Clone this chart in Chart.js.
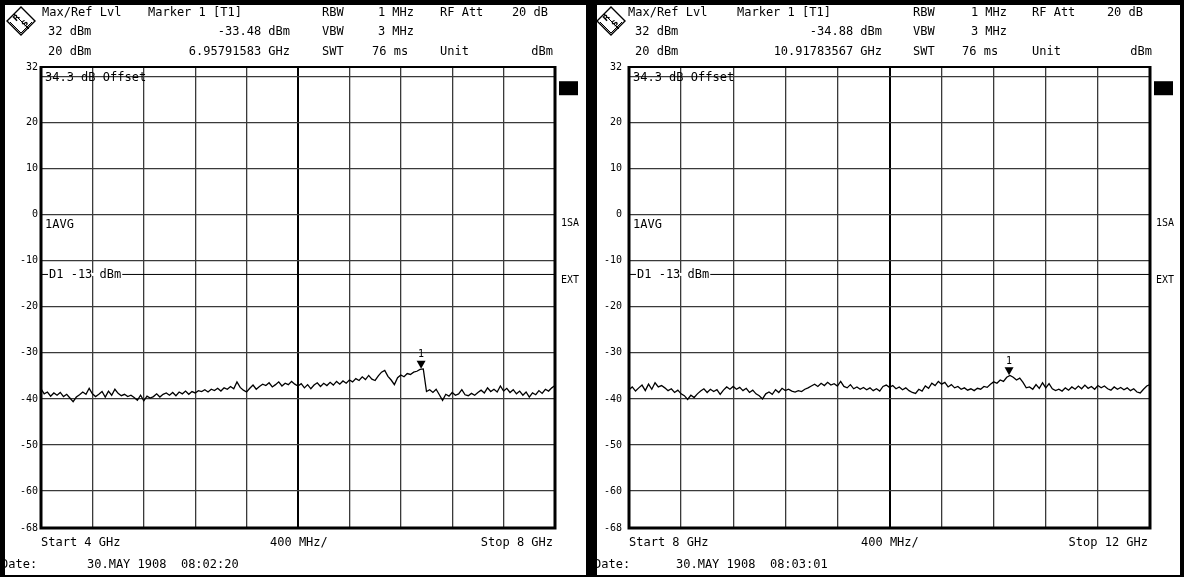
<!DOCTYPE html>
<html>
<head>
<meta charset="utf-8">
<title>Spectrum sweeps 4-8 GHz / 8-12 GHz</title>
<script src="https://cdn.jsdelivr.net/npm/chart.js@4/dist/chart.umd.min.js"></script>
<style>
  html, body { margin: 0; padding: 0; background: #000; }
  body { width: 1184px; height: 577px; position: relative; overflow: hidden; }
  canvas { position: absolute; top: 0; }
  #left { left: 0; }
  #right { left: 591px; }
</style>
</head>
<body>
<canvas id="left" width="591" height="577"></canvas>
<canvas id="right" width="593" height="577"></canvas>
<script>
// Two analyzer screens side by side: 4-8 GHz and 8-12 GHz sweeps
const $ = (id) => document.getElementById(id);

// level axis (dBm)
const refLevel = 32;
const bottomLevel = -68;
const yTicks = [32, 30, 20, 10, 0, -10, -20, -30, -40, -50, -60, -68];
const yLabels = ["32", "", "20", "10", "0", "-10", "-20", "-30", "-40", "-50", "-60", "-68"];
const displayLine = -13;

// sweep 1: 4 - 8 GHz, 25 MHz per trace point
const sweep1Start = 4;
const sweep1Stop = 8;
const sweep1Trace = [
  -37.8, -38.9, -38.5, -39.4, -38.7, -39.2, -38.6, -39.5, -39.0, -39.8,
  -40.6, -39.6, -39.1, -38.5, -39.0, -37.7, -38.9, -39.5, -39.0, -38.4,
  -39.6, -38.3, -39.2, -37.9, -38.8, -39.3, -39.0, -39.5, -39.2, -39.7,
  -40.3, -39.2, -40.4, -39.4, -39.8, -39.5, -38.9, -39.6, -39.0, -38.7,
  -39.2, -38.6, -39.3, -38.5, -38.9, -38.3, -39.0, -38.4, -38.7, -38.2,
  -38.4, -38.0, -38.5, -37.9, -38.2, -37.7, -38.3, -37.6, -37.9, -37.3,
  -37.8, -36.3, -37.5, -38.1, -38.5, -37.7, -37.0, -37.9, -37.3, -36.8,
  -37.1, -36.5, -37.4, -36.9, -36.3, -37.2, -36.6, -36.9, -36.2, -36.8,
  -37.2, -36.7, -37.6, -36.9, -37.8, -37.0, -36.5, -37.3, -36.6, -37.1,
  -36.4, -37.0, -36.2, -36.8, -36.1, -36.6, -35.9, -36.3, -35.6, -36.0,
  -35.2, -35.8, -34.9, -35.7, -36.0, -35.0, -34.2, -33.8, -35.1, -35.9,
  -36.9, -35.4, -34.8, -35.2, -34.5, -34.7, -34.2, -34.0, -33.6, -33.5,
  -38.4, -38.0, -38.6, -37.9, -39.1, -40.3, -39.0, -39.4, -38.6, -39.2,
  -38.9, -38.0, -39.1, -39.3, -38.8, -39.2, -38.6, -38.1, -38.7, -37.6,
  -38.4, -37.9, -38.5, -37.2, -38.3, -37.7, -38.6, -38.0, -38.9, -38.3,
  -39.2, -38.5, -39.6, -38.7, -39.1, -38.2, -38.8, -37.9, -38.3, -37.6,
  -37.1,
];
const sweep1MarkerFreq = 6.95791583;
const sweep1MarkerLevel = -33.48;

// sweep 2: 8 - 12 GHz
const sweep2Start = 8;
const sweep2Stop = 12;
const sweep2Trace = [
  -38.0, -37.4, -38.3, -37.6, -37.0, -38.2, -36.8, -37.9, -36.5, -37.4,
  -37.1, -37.6, -38.2, -37.8, -38.6, -38.1, -38.9, -39.3, -40.1, -39.2,
  -39.7, -38.9, -38.3, -37.8, -38.6, -37.9, -38.4, -38.0, -39.0, -38.1,
  -37.4, -37.9, -37.3, -37.9, -37.5, -38.2, -37.7, -38.6, -38.1, -38.9,
  -39.3, -40.0, -38.9, -38.5, -39.0, -38.0, -38.6, -37.7, -38.2, -37.9,
  -38.3, -38.5, -38.2, -38.4, -37.9, -37.6, -37.2, -36.8, -37.3, -36.6,
  -37.1, -36.4, -37.0, -36.7, -37.2, -36.2, -37.3, -37.6, -36.9, -37.8,
  -37.4, -37.9, -37.5, -38.0, -37.6, -38.2, -37.8, -38.3, -37.3, -37.0,
  -37.5, -37.1, -37.8, -37.4, -38.0, -37.6, -38.2, -38.6, -38.8, -37.9,
  -38.3, -37.2, -37.7, -36.6, -37.1, -36.2, -36.8, -36.4, -37.4, -36.9,
  -37.6, -37.3, -37.9, -37.6, -38.1, -37.8, -38.2, -37.7, -37.9, -37.3,
  -37.5, -36.8, -36.3, -36.6, -35.9, -36.2, -35.3, -34.9, -35.3, -35.9,
  -35.5, -36.4, -37.6, -37.4, -37.9, -36.9, -37.7, -36.5, -37.6, -36.7,
  -37.8, -38.2, -37.9, -38.3, -37.6, -38.1, -37.4, -37.9, -37.2, -37.8,
  -37.0, -37.7, -37.3, -37.9, -37.1, -37.6, -37.2, -37.8, -38.1, -37.4,
  -37.9, -37.5, -38.0, -37.6, -38.2, -37.8, -38.5, -38.7, -37.9, -37.2,
  -36.9,
];
const sweep2MarkerFreq = 10.91783567;
const sweep2MarkerLevel = -34.88;

const sweep1Date = "30.MAY 1908  08:02:20";
const sweep2Date = "30.MAY 1908  08:03:01";

const FONT = '12px "DejaVu Sans Mono", "Liberation Mono", monospace';
const SMALL = '10px "DejaVu Sans Mono", "Liberation Mono", monospace';

function text(ctx, s, x, y, align = "left", font = FONT) {
  ctx.font = font;
  ctx.textAlign = align;
  ctx.textBaseline = "middle";
  ctx.fillStyle = "#000";
  ctx.fillText(s, x, y);
}

function fmtGHz(f) {
  return f.toFixed(8) + " GHz";
}

// R&S diamond logo
function drawLogo(ctx, cx, cy) {
  const r = 14;
  ctx.save();
  ctx.strokeStyle = "#000";
  ctx.lineWidth = 1.4;
  ctx.beginPath();
  ctx.moveTo(cx, cy - r); ctx.lineTo(cx + r, cy); ctx.lineTo(cx, cy + r); ctx.lineTo(cx - r, cy); ctx.closePath();
  ctx.stroke();
  ctx.lineWidth = 1;
  ctx.beginPath();
  ctx.moveTo(cx - r + 3, cy + 1); ctx.lineTo(cx, cy + r - 2); ctx.lineTo(cx + r - 3, cy + 1);
  ctx.stroke();
  ctx.beginPath();
  ctx.moveTo(cx - 7, cy - 7); ctx.lineTo(cx + 8, cy + 8);
  ctx.stroke();
  ctx.translate(cx, cy);
  ctx.rotate(-Math.PI / 4);
  text(ctx, "R", -1, -5, "center", 'bold 8px "DejaVu Sans"');
  text(ctx, "S", 1, 5, "center", 'bold 8px "DejaVu Sans"');
  ctx.restore();
}

const screen = {
  id: "screen",
  beforeDraw(chart, args, o) {
    const { ctx, width, height } = chart;
    ctx.save();
    ctx.fillStyle = "#000";
    ctx.fillRect(0, 0, width, height);
    ctx.fillStyle = "#fff";
    ctx.fillRect(o.sheetX, 5, o.sheetW, height - 7);
    ctx.restore();
  },
  afterDraw(chart, args, o) {
    const { ctx, chartArea: a } = chart;
    const xs = chart.scales.x, ys = chart.scales.y;
    const c = o.cols;
    ctx.save();

    // plot frame
    ctx.strokeStyle = "#000";
    ctx.lineWidth = 2;
    ctx.beginPath(); ctx.moveTo(a.left, a.top); ctx.lineTo(a.right, a.top); ctx.stroke();
    ctx.lineWidth = 3;
    ctx.beginPath();
    ctx.moveTo(a.left, a.top - 1); ctx.lineTo(a.left, a.bottom); ctx.lineTo(a.right, a.bottom); ctx.lineTo(a.right, a.top - 1);
    ctx.stroke();

    // header
    drawLogo(ctx, c.logo, 21);
    text(ctx, "Max/Ref Lvl", c.title, 13);
    text(ctx, "Marker 1 [T1]", c.marker, 13);
    text(ctx, refLevel + " dBm", c.value, 32);
    text(ctx, "20 dBm", c.value, 52);
    text(ctx, o.markerLevel.toFixed(2) + " dBm", c.markerRight, 32, "right");
    text(ctx, fmtGHz(o.markerFreq), c.markerRight, 52, "right");
    text(ctx, "RBW", c.bw, 13);
    text(ctx, "1 MHz", c.bwRight, 13, "right");
    text(ctx, "VBW", c.bw, 32);
    text(ctx, "3 MHz", c.bwRight, 32, "right");
    text(ctx, "SWT", c.bw, 52);
    text(ctx, "76 ms", c.swt, 52);
    text(ctx, "RF Att", c.att, 13);
    text(ctx, "20 dB", c.attRight, 13, "right");
    text(ctx, "Unit", c.att, 52);
    text(ctx, "dBm", c.unitRight, 52, "right");

    // labels inside the plot
    text(ctx, "34.3 dB Offset", a.left + 4, ys.getPixelForValue(30) + 2);
    text(ctx, "1AVG", a.left + 4, ys.getPixelForValue(0) + 10);

    // display line D1 with its label cut into it
    const yD = ys.getPixelForValue(displayLine);
    ctx.strokeStyle = "#000";
    ctx.lineWidth = 1;
    ctx.beginPath(); ctx.moveTo(a.left, yD); ctx.lineTo(a.right, yD); ctx.stroke();
    ctx.font = FONT;
    const label = "D1 " + displayLine + " dBm";
    const lw = ctx.measureText(label).width;
    ctx.fillStyle = "#fff";
    ctx.fillRect(a.left + 7, yD - 1.5, lw + 2, 3);
    text(ctx, label, a.left + 8, yD);

    // marker 1
    const mx = xs.getPixelForValue(o.markerFreq);
    const my = ys.getPixelForValue(o.markerLevel);
    ctx.fillStyle = "#000";
    ctx.beginPath();
    ctx.moveTo(mx, my); ctx.lineTo(mx - 4.5, my - 8); ctx.lineTo(mx + 4.5, my - 8); ctx.closePath();
    ctx.fill();
    text(ctx, "1", mx, my - 14, "center", SMALL);

    // right-hand status column
    ctx.fillStyle = "#000";
    ctx.fillRect(a.right + 4, ys.getPixelForValue(30) + 5, 19, 14);
    text(ctx, "1SA", a.right + 6, ys.getPixelForValue(0) + 9, "left", SMALL);
    text(ctx, "EXT", a.right + 6, yD + 6, "left", SMALL);

    // sweep settings and date
    text(ctx, "Start " + o.start + " GHz", a.left, 543);
    text(ctx, "400 MHz/", c.span, 543);
    text(ctx, "Stop " + o.stop + " GHz", a.right - 2, 543, "right");
    text(ctx, "Date:", c.date, 565);
    text(ctx, o.date, c.dateValue, 565);
    ctx.restore();
  },
};

function makeScreen(id, start, stop, trace, markerFreq, markerLevel, date, lay) {
  const step = (stop - start) / (trace.length - 1);
  const points = trace.map((v, i) => ({ x: start + i * step, y: v }));
  const canvas = $(id);
  return new Chart(canvas.getContext("2d"), {
    type: "line",
    data: {
      datasets: [{
        data: points,
        borderColor: "#000",
        borderWidth: 1.3,
        pointRadius: 0,
        tension: 0,
      }],
    },
    options: {
      responsive: false,
      animation: false,
      events: [],
      layout: { padding: { left: lay.padLeft, top: 67, right: canvas.width - lay.plotRight, bottom: 49 } },
      plugins: {
        legend: { display: false },
        tooltip: { enabled: false },
        screen: { sheetX: lay.sheetX, sheetW: lay.sheetW, cols: lay.cols, start, stop, markerFreq, markerLevel, date },
      },
      scales: {
        x: {
          type: "linear",
          min: start,
          max: stop,
          afterBuildTicks: (s) => {
            s.ticks = Array.from({ length: 11 }, (_, k) => ({ value: start + (k * (stop - start)) / 10 }));
          },
          afterFit: (s) => { s.height = 0; },
          ticks: { display: false },
          grid: {
            color: (g) => (g.index === 5 ? "#000" : "#3a3a3a"),
            lineWidth: (g) => (g.index === 5 ? 2 : 1.3),
            drawTicks: false,
          },
          border: { display: false },
        },
        y: {
          min: bottomLevel,
          max: refLevel,
          afterBuildTicks: (s) => { s.ticks = yTicks.map((v) => ({ value: v })); },
          afterFit: (s) => { s.width = lay.axisW; s.paddingTop = 0; s.paddingBottom = 0; },
          ticks: {
            autoSkip: false,
            padding: lay.tickPad,
            color: "#000",
            font: { family: '"DejaVu Sans Mono", "Liberation Mono", monospace', size: 10 },
            callback: (v, i) => yLabels[i],
          },
          grid: { color: "#3a3a3a", lineWidth: 1.3, drawTicks: false },
          border: { display: false },
        },
      },
    },
    plugins: [screen],
  });
}

makeScreen("left", sweep1Start, sweep1Stop, sweep1Trace, sweep1MarkerFreq, sweep1MarkerLevel, sweep1Date, {
  sheetX: 5, sheetW: 581, padLeft: 5, axisW: 36, tickPad: 3, plotRight: 555,
  cols: { logo: 21, title: 42, marker: 148, value: 48, markerRight: 290, bw: 322, bwRight: 414,
          swt: 372, att: 440, attRight: 548, unitRight: 553, span: 270, date: 1, dateValue: 87 },
});

makeScreen("right", sweep2Start, sweep2Stop, sweep2Trace, sweep2MarkerFreq, sweep2MarkerLevel, sweep2Date, {
  sheetX: 6, sheetW: 583, padLeft: 6, axisW: 32, tickPad: 7, plotRight: 559,
  cols: { logo: 20, title: 37, marker: 146, value: 44, markerRight: 291, bw: 322, bwRight: 416,
          swt: 371, att: 441, attRight: 552, unitRight: 561, span: 270, date: 3, dateValue: 85 },
});
</script>
</body>
</html>
